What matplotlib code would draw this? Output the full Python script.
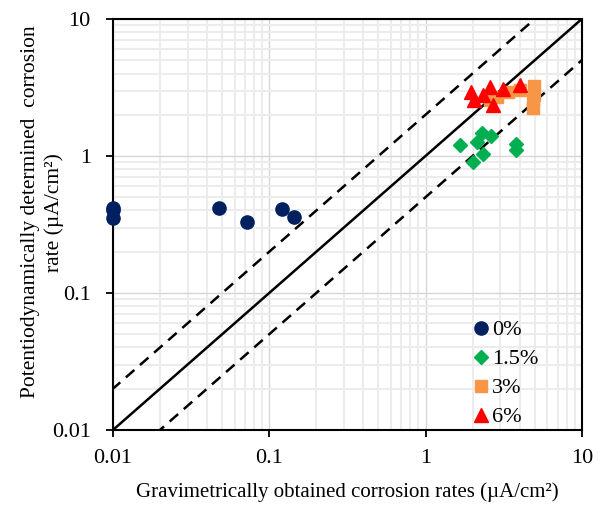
import numpy as np
import matplotlib
matplotlib.use("Agg")
import matplotlib.pyplot as plt
from matplotlib.ticker import LogLocator, NullFormatter, FixedLocator, FixedFormatter

plt.rcParams["font.family"] = ["Liberation Serif", "DejaVu Serif"]

# Gravimetric (x) vs potentiodynamic (y) corrosion rates, uA/cm2
grav_0 = [0.01, 0.01, 0.01, 0.048, 0.072, 0.12, 0.145]
pot_0 = [0.42, 0.40, 0.35, 0.42, 0.33, 0.41, 0.36]

grav_15 = [1.67, 2.01, 2.33, 2.14, 2.30, 2.63, 3.80, 3.80]
pot_15 = [1.20, 0.90, 1.03, 1.27, 1.46, 1.40, 1.22, 1.10]

grav_3 = [2.57, 2.85, 3.35, 4.00, 4.95, 4.95, 4.85, 4.85]
pot_3 = [2.56, 2.70, 2.93, 3.03, 3.25, 2.80, 2.56, 2.24]

grav_6 = [1.96, 2.03, 2.33, 2.57, 2.72, 3.12, 4.03]
pot_6 = [2.95, 2.56, 2.78, 3.20, 2.36, 3.07, 3.30]

fig = plt.figure(figsize=(6.01, 5.07), dpi=100)
ax = fig.add_axes([0.188, 0.152, 0.780, 0.8105])

ax.set_xscale("log")
ax.set_yscale("log")
ax.set_xlim(0.01, 10)
ax.set_ylim(0.01, 10)

# grid: decades slightly darker, minor lines pale
ax.xaxis.set_minor_locator(LogLocator(base=10, subs=np.arange(2, 10)))
ax.yaxis.set_minor_locator(LogLocator(base=10, subs=np.arange(2, 10)))
ax.xaxis.set_minor_formatter(NullFormatter())
ax.yaxis.set_minor_formatter(NullFormatter())
ax.grid(True, which="minor", color="#ececec", linewidth=1.5, zorder=0)
ax.grid(True, which="major", color="#d6d6d6", linewidth=1.0, zorder=0)
ax.set_axisbelow(True)

ticks = [0.01, 0.1, 1, 10]
tick_labels = ["0.01", "0.1", "1", "10"]
ax.xaxis.set_major_locator(FixedLocator(ticks))
ax.xaxis.set_major_formatter(FixedFormatter(tick_labels))
ax.yaxis.set_major_locator(FixedLocator(ticks))
ax.yaxis.set_major_formatter(FixedFormatter(tick_labels))
ax.tick_params(which="major", direction="out", length=5, width=1.3,
               labelsize=16)
ax.tick_params(axis="y", which="major", pad=11)
ax.tick_params(axis="x", which="major", pad=9)
ax.tick_params(which="minor", length=0)

for sp in ax.spines.values():
    sp.set_linewidth(1.5)
    sp.set_color("black")

# 1:1 line and factor-of-two bounds
ref = np.array([0.001, 100.0])
ax.plot(ref, ref, color="black", linewidth=1.8, zorder=2)
ax.plot(ref, ref * 2, color="black", linewidth=1.8, linestyle=(0, (4.5, 3)), zorder=2)
ax.plot(ref, ref / 2, color="black", linewidth=1.8, linestyle=(0, (4.5, 3)), zorder=2)

ax.plot(grav_0, pot_0, "o", color="#002060", markersize=9.5, linestyle="none",
        label="0%", zorder=3, clip_on=False)
ax.plot(grav_15, pot_15, "D", color="#00b050", markersize=7, linestyle="none",
        label="1.5%", zorder=3)
ax.plot(grav_3, pot_3, "s", color="#f79646", markersize=8.5, linestyle="none",
        label="3%", zorder=3)
ax.plot(grav_6, pot_6, "^", color="#ff0000", markersize=10, linestyle="none",
        label="6%", zorder=4)

ax.legend(loc="upper left", bbox_to_anchor=(0.768, 0.268), frameon=False,
          fontsize=16, handlelength=0.7, handletextpad=0.15,
          labelspacing=0.38, borderpad=0, borderaxespad=0)

ax.set_xlabel("Gravimetrically obtained corrosion rates (µA/cm²)",
              fontsize=15, labelpad=10)
ax.set_ylabel("Potentiodynamically determined  corrosion\nrate (µA/cm²)",
              fontsize=15.5, linespacing=1.3)
ax.yaxis.set_label_coords(-0.104, 0.53)

fig.savefig("out.png", dpi=100)
